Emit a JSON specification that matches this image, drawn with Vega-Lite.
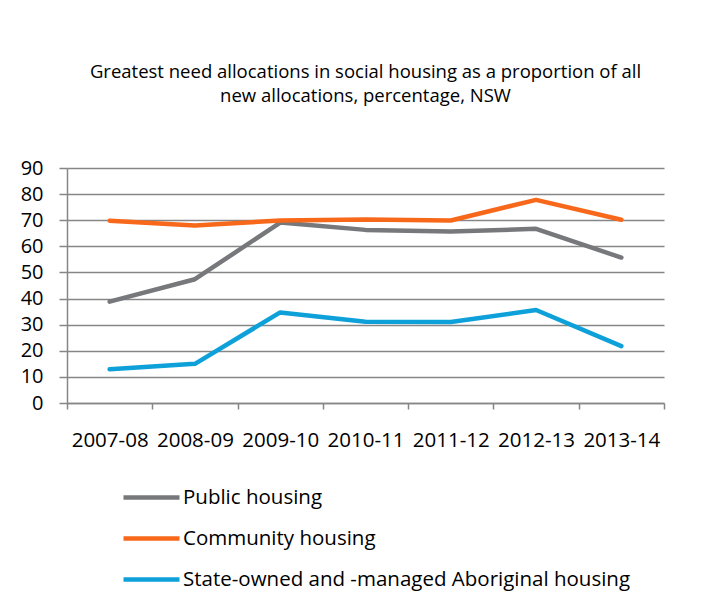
{
  "$schema": "https://vega.github.io/schema/vega-lite/v6.json",
  "width": 597,
  "height": 235,
  "autosize": "none",
  "padding": {"left": 67, "top": 168, "right": 54, "bottom": 203},
  "background": "white",
  "title": {
    "text": ["Greatest need allocations in social housing as a proportion of all", "new allocations, percentage, NSW"],
    "font": "Open Sans",
    "fontSize": 18.5,
    "fontWeight": "normal",
    "color": "#000000",
    "lineHeight": 24,
    "offset": 53,
    "anchor": "middle",
    "frame": "group"
  },
  "config": {
    "view": {"stroke": null},
    "font": "Open Sans"
  },
  "data": {
    "values": [
      {"year": "2007-08", "series": "Public housing", "value": 38.8},
      {"year": "2008-09", "series": "Public housing", "value": 47.4},
      {"year": "2009-10", "series": "Public housing", "value": 69.1},
      {"year": "2010-11", "series": "Public housing", "value": 66.3},
      {"year": "2011-12", "series": "Public housing", "value": 65.7},
      {"year": "2012-13", "series": "Public housing", "value": 66.7},
      {"year": "2013-14", "series": "Public housing", "value": 55.7},
      {"year": "2007-08", "series": "Community housing", "value": 69.8},
      {"year": "2008-09", "series": "Community housing", "value": 68.0},
      {"year": "2009-10", "series": "Community housing", "value": 69.9},
      {"year": "2010-11", "series": "Community housing", "value": 70.3},
      {"year": "2011-12", "series": "Community housing", "value": 69.9},
      {"year": "2012-13", "series": "Community housing", "value": 77.8},
      {"year": "2013-14", "series": "Community housing", "value": 70.2},
      {"year": "2007-08", "series": "State-owned and -managed Aboriginal housing", "value": 12.9},
      {"year": "2008-09", "series": "State-owned and -managed Aboriginal housing", "value": 15.0},
      {"year": "2009-10", "series": "State-owned and -managed Aboriginal housing", "value": 34.7},
      {"year": "2010-11", "series": "State-owned and -managed Aboriginal housing", "value": 31.1},
      {"year": "2011-12", "series": "State-owned and -managed Aboriginal housing", "value": 31.0},
      {"year": "2012-13", "series": "State-owned and -managed Aboriginal housing", "value": 35.6},
      {"year": "2013-14", "series": "State-owned and -managed Aboriginal housing", "value": 21.8}
    ]
  },
  "mark": {"type": "line", "strokeWidth": 4.5, "strokeCap": "round", "strokeJoin": "round"},
  "encoding": {
    "x": {
      "field": "year",
      "type": "ordinal",
      "bandPosition": 0.5,
      "scale": {"type": "band", "paddingInner": 0, "paddingOuter": 0},
      "axis": {
        "title": null,
        "labelAngle": 0,
        "tickBand": "extent",
        "tickSize": 6,
        "tickColor": "#868686",
        "tickWidth": 1.5,
        "domainColor": "#868686",
        "domainWidth": 1.5,
        "labelFont": "Open Sans",
        "labelFontSize": 20.5,
        "labelColor": "#000000",
        "labelPadding": 21,
        "labelOverlap": false,
        "grid": false
      }
    },
    "y": {
      "field": "value",
      "type": "quantitative",
      "scale": {"domain": [0, 90], "nice": false},
      "axis": {
        "title": null,
        "values": [0, 10, 20, 30, 40, 50, 60, 70, 80, 90],
        "tickSize": 8,
        "tickColor": "#868686",
        "tickWidth": 1.5,
        "domainColor": "#868686",
        "domainWidth": 1.5,
        "grid": true,
        "gridColor": "#868686",
        "gridWidth": 1.5,
        "labelFont": "Open Sans",
        "labelFontSize": 20,
        "labelColor": "#000000",
        "labelPadding": 16,
        "labelOverlap": false
      }
    },
    "color": {
      "field": "series",
      "type": "nominal",
      "sort": ["Public housing", "Community housing", "State-owned and -managed Aboriginal housing"],
      "scale": {
        "domain": ["Public housing", "Community housing", "State-owned and -managed Aboriginal housing"],
        "range": ["#77787B", "#F7681B", "#0EA1D9"]
      },
      "legend": {
        "title": null,
        "orient": "none",
        "legendX": 54,
        "legendY": 299,
        "direction": "vertical",
        "symbolType": "stroke",
        "symbolSize": 3136,
        "symbolStrokeWidth": 4.5,
        "labelFont": "Open Sans",
        "labelFontSize": 20.5,
        "labelColor": "#000000",
        "labelOffset": 1,
        "labelLimit": 0,
        "rowPadding": -1.5
      }
    }
  }
}
